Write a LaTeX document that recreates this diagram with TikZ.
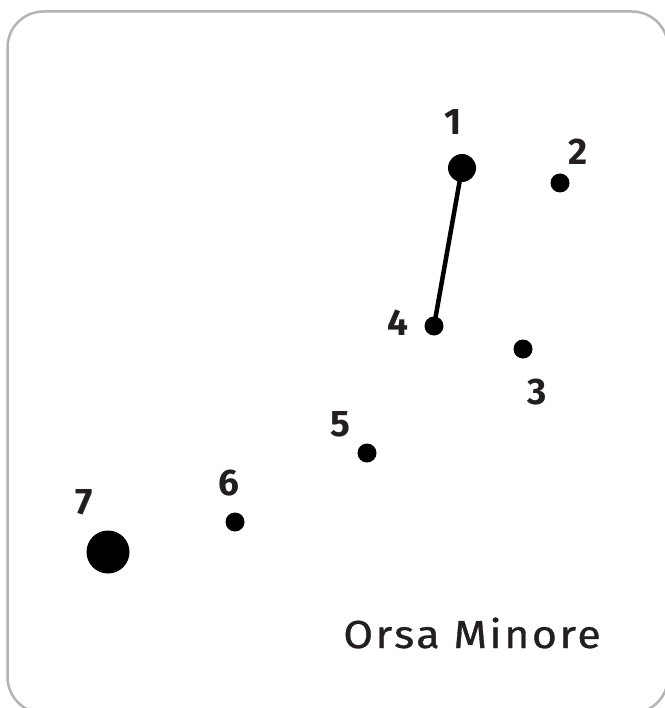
\documentclass[tikz,border=0pt]{standalone}
\usepackage{fontspec}
\setmainfont{Fira Sans}
\newfontfamily\titlefont[LetterSpace=6,FakeBold=0.8]{Fira Sans}
\definecolor{frame}{HTML}{B4B4B8}
\definecolor{ink}{HTML}{231F20}
\begin{document}
\begin{tikzpicture}[x=1pt,y=-1pt,
  bigstar/.style={circle,fill=black,inner sep=0pt,minimum size=#1},
  num/.style={text=ink,font=\fontsize{37}{37}\selectfont\bfseries,inner sep=0pt,anchor=center},
  title/.style={text=ink,font=\titlefont\fontsize{39}{39}\selectfont,inner sep=0pt,anchor=base east,xscale=1.1}]
\useasboundingbox (0,0) rectangle (664,708);
\draw[frame,line width=2.5pt,rounded corners=36pt] (7.5,11.5) rectangle (668,713);
\node[bigstar=28pt] (s1) at (462,168) {};
\node[bigstar=19pt] (s2) at (560,183) {};
\node[bigstar=19pt] (s3) at (523,349) {};
\node[bigstar=19pt] (s4) at (434,326) {};
\node[bigstar=19pt] (s5) at (367,453) {};
\node[bigstar=19pt] (s6) at (235,522) {};
\node[bigstar=43pt] (s7) at (108,552) {};
\draw[line width=4.5pt] (s1.center) -- (s4.center);
\node[num] (l1) at (453,122) {1};
\node[num] (l2) at (578,152) {2};
\node[num] (l3) at (537,392) {3};
\node[num] (l4) at (398,323) {4};
\node[num] (l5) at (340,424) {5};
\node[num] (l6) at (229,483) {6};
\node[num] (l7) at (84,502) {7};
\node[title] (t) at (601,648) {Orsa Minore};
\end{tikzpicture}
\end{document}
